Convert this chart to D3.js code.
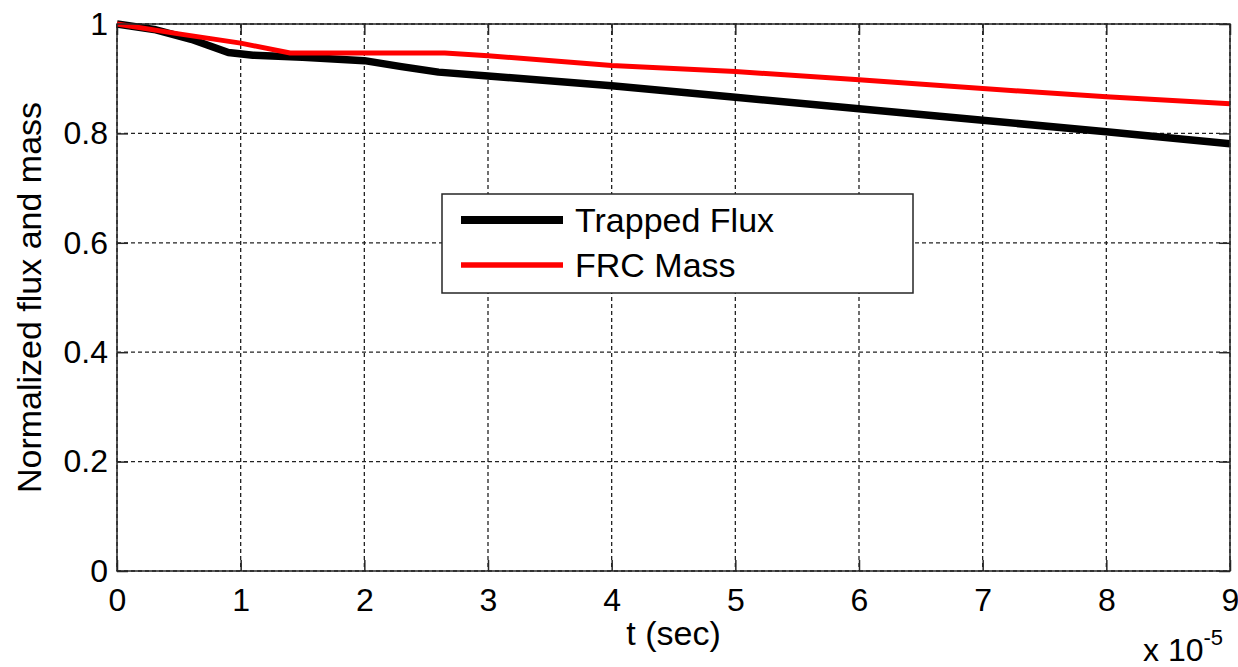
<!DOCTYPE html>
<html>
<head>
<meta charset="utf-8">
<script src="https://cdn.jsdelivr.net/npm/d3@7"></script>
<style>
  body { margin: 0; background: #fff; }
  svg { display: block; font-family: "Liberation Sans", Arial, Helvetica, sans-serif; }
</style>
</head>
<body>
<svg width="1238" height="667"></svg>
<script>
// time in units of 1e-5 s
var timeScale = -5;
var xTicks = [0, 1, 2, 3, 4, 5, 6, 7, 8, 9];
var yTicks = [0, 0.2, 0.4, 0.6, 0.8, 1];

var fluxT = [0, 0.3, 0.6, 0.9, 1.1, 1.5, 2.0, 2.3, 2.6, 3, 4, 5, 6, 7, 8, 9];
var fluxV = [1, 0.99, 0.972, 0.948, 0.943, 0.939, 0.933, 0.922, 0.912, 0.905, 0.887, 0.866, 0.845, 0.824, 0.803, 0.781];

var massT = [0, 0.5, 1.0, 1.4, 2.0, 2.65, 3, 4, 5, 6, 7, 8, 9];
var massV = [1, 0.982, 0.965, 0.947, 0.947, 0.947, 0.942, 0.924, 0.913, 0.898, 0.882, 0.867, 0.854];

var seriesNames = ["Trapped Flux", "FRC Mass"];
var seriesColors = ["#000000", "#ff0000"];
var seriesWidths = [7.5, 5];

var margin = {left: 117, top: 24, right: 8, bottom: 96};
var width = 1238 - margin.left - margin.right;
var height = 667 - margin.top - margin.bottom;
var fontSize = 32;

var svg = d3.select("svg");
var g = svg.append("g").attr("transform", "translate(" + margin.left + "," + margin.top + ")");

var x = d3.scaleLinear().domain([0, 9]).range([0, width]);
var y = d3.scaleLinear().domain([0, 1]).range([height, 0]);

// dashed grid
g.selectAll(".vgrid").data(xTicks).enter().append("line")
    .attr("x1", d => x(d)).attr("x2", d => x(d))
    .attr("y1", 0).attr("y2", height)
    .attr("stroke", "#222").attr("stroke-width", 1.3)
    .attr("stroke-dasharray", "4,3");
g.selectAll(".hgrid").data(yTicks).enter().append("line")
    .attr("x1", 0).attr("x2", width)
    .attr("y1", d => y(d)).attr("y2", d => y(d))
    .attr("stroke", "#222").attr("stroke-width", 1.3)
    .attr("stroke-dasharray", "4,3");

function styleAxis(sel, showLabels) {
    sel.select(".domain").remove();
    sel.selectAll(".tick line").attr("stroke", "#262626").attr("stroke-width", 1.5);
    sel.selectAll("text")
        .attr("font-size", fontSize)
        .attr("font-family", "Liberation Sans, Arial, sans-serif")
        .attr("fill", "#000");
    if (!showLabels) sel.selectAll("text").remove();
}

var fmt = d3.format("~g");
g.append("g").attr("transform", "translate(0," + height + ")")
    .call(d3.axisBottom(x).tickValues(xTicks).tickFormat(fmt).tickSizeInner(-11).tickSizeOuter(0).tickPadding(17))
    .call(styleAxis, true);
g.append("g")
    .call(d3.axisTop(x).tickValues(xTicks).tickSizeInner(-11).tickSizeOuter(0))
    .call(styleAxis, false);
g.append("g")
    .call(d3.axisLeft(y).tickValues(yTicks).tickFormat(fmt).tickSizeInner(-11).tickSizeOuter(0).tickPadding(9))
    .call(styleAxis, true);
g.append("g").attr("transform", "translate(" + width + ",0)")
    .call(d3.axisRight(y).tickValues(yTicks).tickSizeInner(-11).tickSizeOuter(0))
    .call(styleAxis, false);

// curves
var line = d3.line().x(d => x(d[0])).y(d => y(d[1]));
var series = [d3.zip(fluxT, fluxV), d3.zip(massT, massV)];
series.forEach(function (pts, i) {
    g.append("path")
        .datum(pts)
        .attr("d", line)
        .attr("fill", "none")
        .attr("stroke", seriesColors[i])
        .attr("stroke-width", seriesWidths[i])
        .attr("stroke-linejoin", "round");
});

// frame
g.append("rect")
    .attr("x", 0).attr("y", 0)
    .attr("width", width).attr("height", height)
    .attr("fill", "none")
    .attr("stroke", "#262626").attr("stroke-width", 1.5);

// legend
var legend = g.append("g").attr("transform", "translate(" + (442 - margin.left) + "," + (194 - margin.top) + ")");
legend.append("rect")
    .attr("width", 471).attr("height", 99)
    .attr("fill", "#fff")
    .attr("stroke", "#262626").attr("stroke-width", 1.5);
seriesNames.forEach(function (name, i) {
    let ly = 26 + i * 45;
    legend.append("line")
        .attr("x1", 19).attr("x2", 121)
        .attr("y1", ly).attr("y2", ly)
        .attr("stroke", seriesColors[i])
        .attr("stroke-width", seriesWidths[i] + 0.5);
    legend.append("text")
        .attr("x", 133).attr("y", ly + 12)
        .attr("font-size", 34)
        .text(name);
});

// axis labels
svg.append("text")
    .attr("x", margin.left + width / 2).attr("y", 645)
    .attr("text-anchor", "middle")
    .attr("font-size", 34)
    .text("t (sec)");

svg.append("text")
    .attr("transform", "translate(41," + (margin.top + height / 2) + ") rotate(-90)")
    .attr("text-anchor", "middle")
    .attr("font-size", 34)
    .text("Normalized flux and mass");

var expo = svg.append("text")
    .attr("x", 1143).attr("y", 661)
    .attr("font-size", 32);
expo.append("tspan").text("x 10");
expo.append("tspan").attr("dy", -16).attr("font-size", 22).text(timeScale);
</script>
</body>
</html>
